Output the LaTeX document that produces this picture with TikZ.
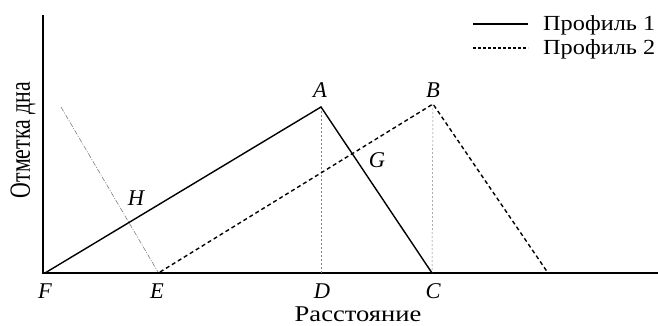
\documentclass[tikz,border=0pt]{standalone}
\usepackage{fontspec}
\setmainfont{Liberation Serif}
\begin{document}
\begin{tikzpicture}[x=1pt,y=-1pt,
  lbl/.style={font=\fontsize{22.5}{24}\selectfont\itshape, inner sep=0pt, anchor=base},
  txt/.style={font=\fontsize{22.5}{24}\selectfont, inner sep=0pt},
  legtxt/.style={font=\fontsize{21.5}{23}\selectfont, inner sep=0pt, anchor=base west},
  prof1/.style={line width=1.4pt},
  prof2/.style={line width=1.4pt, dash pattern=on 4pt off 3pt},
  guide/.style={gray, line width=0.5pt, dash pattern=on 2pt off 2pt},
  dashdot/.style={gray, line width=0.6pt, dash pattern=on 5pt off 1.5pt on 1pt off 1.5pt},
  axisline/.style={line width=1.2pt}]
\useasboundingbox (0,0) rectangle (658,326);
% points
\coordinate (F) at (45,273);
\coordinate (E) at (160,272);
\coordinate (A) at (321,107);
\coordinate (D) at (321,273);
\coordinate (C) at (432,273);
\coordinate (B) at (433,104);
\coordinate (K) at (548,273);
\coordinate (ytop) at (43,15);
\coordinate (xend) at (658,273);
\coordinate (ddtop) at (61,107);
\coordinate (ddbot) at (158,272);
% axes
\draw[axisline] (ytop) -- (43,273) -- (xend);
% guides
\draw[guide] (A) -- (D);
\draw[guide] (B) -- (C);
\draw[dashdot] (ddtop) -- (ddbot);
% profiles
\draw[prof1] (F) -- (A) -- (C);
\draw[prof2] (E) -- (B) -- (K);
% labels
\node[lbl] (lA) at (320,98) {A};
\node[lbl] (lB) at (433,98) {B};
\node[lbl] (lG) at (377,167) {G};
\node[lbl] (lH) at (136,205) {H};
\node[lbl] (lF) at (45,298) {F};
\node[lbl] (lE) at (157,298) {E};
\node[lbl] (lD) at (322,298) {D};
\node[lbl] (lC) at (433,298) {C};
\node[txt, anchor=base] (xl) at (358,321) {\scalebox{1.18}[1]{Расстояние}};
\node[txt, rotate=90] (yl) at (23,140) {\scalebox{0.97}[1.3]{Отметка дна}};
% legend
\coordinate (l1a) at (473,24); \coordinate (l1b) at (528,24);
\coordinate (l2a) at (473,48); \coordinate (l2b) at (528,48);
\draw[line width=1.1pt] (l1a) -- (l1b);
\draw[line width=1.1pt, dash pattern=on 3pt off 2pt] (l2a) -- (l2b);
\node[legtxt] (t1) at (543,31) {\scalebox{1.13}[1]{Профиль 1}};
\node[legtxt] (t2) at (543,55) {\scalebox{1.13}[1]{Профиль 2}};
\end{tikzpicture}
\end{document}
